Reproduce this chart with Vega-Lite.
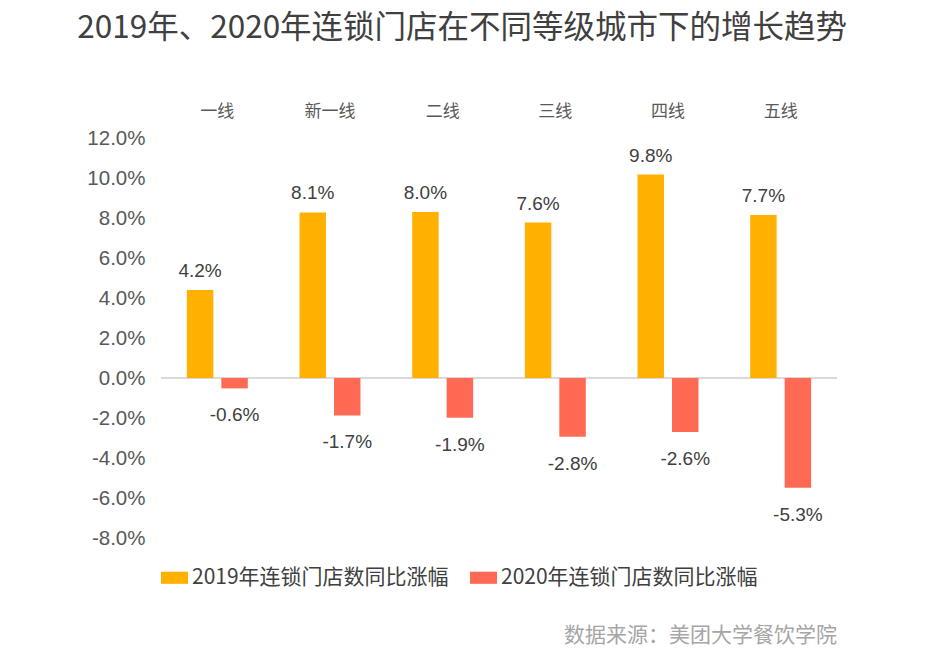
{
  "$schema": "https://vega.github.io/schema/vega-lite/v6.json",
  "padding": {"left": 77, "top": 12, "right": 10, "bottom": 5},
  "background": "white",
  "config": {"view": {"stroke": null}, "font": "Noto Sans CJK SC", "axisY": {"labelOverlap": false}, "axisQuantitative": {"labelOverlap": false}},
  "title": {"text": "数据来源：美团大学餐饮学院", "orient": "bottom", "anchor": "end", "fontSize": 21, "fontWeight": "normal", "color": "#a6a6a6", "font": "Noto Sans CJK SC", "offset": 37, "dx": -10},
  "data": {"values": [
    {"city": "一线", "series": "2019年连锁门店数同比涨幅", "value": 4.4, "label": "4.2%"},
    {"city": "一线", "series": "2020年连锁门店数同比涨幅", "value": -0.52, "label": "-0.6%"},
    {"city": "新一线", "series": "2019年连锁门店数同比涨幅", "value": 8.28, "label": "8.1%"},
    {"city": "新一线", "series": "2020年连锁门店数同比涨幅", "value": -1.87, "label": "-1.7%"},
    {"city": "二线", "series": "2019年连锁门店数同比涨幅", "value": 8.3, "label": "8.0%"},
    {"city": "二线", "series": "2020年连锁门店数同比涨幅", "value": -1.99, "label": "-1.9%"},
    {"city": "三线", "series": "2019年连锁门店数同比涨幅", "value": 7.77, "label": "7.6%"},
    {"city": "三线", "series": "2020年连锁门店数同比涨幅", "value": -2.94, "label": "-2.8%"},
    {"city": "四线", "series": "2019年连锁门店数同比涨幅", "value": 10.17, "label": "9.8%"},
    {"city": "四线", "series": "2020年连锁门店数同比涨幅", "value": -2.7, "label": "-2.6%"},
    {"city": "五线", "series": "2019年连锁门店数同比涨幅", "value": 8.15, "label": "7.7%"},
    {"city": "五线", "series": "2020年连锁门店数同比涨幅", "value": -5.49, "label": "-5.3%"}
  ]},
  "vconcat": [
    {
      "width": 676,
      "height": 400,
      "title": {"text": "2019年、2020年连锁门店在不同等级城市下的增长趋势", "anchor": "middle", "frame": "bounds", "fontSize": 31.5, "fontWeight": "normal", "color": "#404040", "font": "Noto Sans CJK SC", "offset": 58},
      "layer": [
        {
          "mark": {"type": "rule", "color": "#d9d9d9", "strokeWidth": 1},
          "encoding": {"y": {"datum": 0, "type": "quantitative", "scale": {"domain": [-8, 12], "nice": false, "zero": false},
            "axis": {"values": [-8, -6, -4, -2, 0, 2, 4, 6, 8, 10, 12], "tickCount": 30, "labelExpr": "(datum.value < 0 ? '-' : '') + format(abs(datum.value), '.1f') + '%'", "labelOverlap": false, "domain": false, "ticks": false, "grid": false, "labelFont": "Liberation Sans", "labelFontSize": 20.5, "labelColor": "#595959", "labelPadding": 16, "title": null}}}
        },
        {
          "mark": {"type": "bar"},
          "encoding": {
            "x": {"field": "city", "type": "nominal", "sort": null, "scale": {"paddingInner": 0, "paddingOuter": 0},
              "axis": {"orient": "top", "domain": false, "ticks": false, "labelAngle": 0, "labelFont": "Noto Sans CJK SC", "labelFontSize": 17, "labelColor": "#595959", "labelPadding": 18, "title": null}},
            "xOffset": {"field": "series", "type": "nominal", "sort": null, "scale": {"paddingInner": 0.232, "paddingOuter": 0.75}},
            "y": {"field": "value", "type": "quantitative", "scale": {"domain": [-8, 12], "nice": false, "zero": false},
              "axis": {"values": [-8, -6, -4, -2, 0, 2, 4, 6, 8, 10, 12], "tickCount": 30, "labelExpr": "(datum.value < 0 ? '-' : '') + format(abs(datum.value), '.1f') + '%'", "labelOverlap": false, "domain": false, "ticks": false, "grid": false, "labelFont": "Liberation Sans", "labelFontSize": 20.5, "labelColor": "#595959", "labelPadding": 16, "title": null}},
            "color": {"field": "series", "type": "nominal", "sort": null, "scale": {"range": ["#FFB000", "#FF6A55"]},
              "legend": {"orient": "bottom", "direction": "horizontal", "title": null, "symbolType": "M-1,-0.45H1V0.45H-1Z", "symbolSize": 729, "symbolStrokeWidth": 0, "labelFontSize": 21, "labelFont": "Noto Sans CJK SC", "labelColor": "#404040", "labelLimit": 0, "columnPadding": 21, "offset": 15, "labelOffset": 4, "padding": 0}}
          }
        },
        {
          "transform": [{"filter": "datum.value > 0"}],
          "mark": {"type": "text", "baseline": "middle", "dy": -19, "fontSize": 19, "font": "Liberation Sans", "color": "#404040"},
          "encoding": {
            "x": {"field": "city", "type": "nominal", "sort": null},
            "xOffset": {"field": "series", "type": "nominal", "sort": null},
            "y": {"field": "value", "type": "quantitative",
              "axis": {"values": [-8, -6, -4, -2, 0, 2, 4, 6, 8, 10, 12], "tickCount": 30, "labelExpr": "(datum.value < 0 ? '-' : '') + format(abs(datum.value), '.1f') + '%'", "labelOverlap": false, "domain": false, "ticks": false, "grid": false, "labelFont": "Liberation Sans", "labelFontSize": 20.5, "labelColor": "#595959", "labelPadding": 16, "title": null}},
            "text": {"field": "label"}
          }
        },
        {
          "transform": [{"filter": "datum.value < 0"}],
          "mark": {"type": "text", "baseline": "middle", "dy": 27, "fontSize": 19, "font": "Liberation Sans", "color": "#404040"},
          "encoding": {
            "x": {"field": "city", "type": "nominal", "sort": null},
            "xOffset": {"field": "series", "type": "nominal", "sort": null},
            "y": {"field": "value", "type": "quantitative",
              "axis": {"values": [-8, -6, -4, -2, 0, 2, 4, 6, 8, 10, 12], "tickCount": 30, "labelExpr": "(datum.value < 0 ? '-' : '') + format(abs(datum.value), '.1f') + '%'", "labelOverlap": false, "domain": false, "ticks": false, "grid": false, "labelFont": "Liberation Sans", "labelFontSize": 20.5, "labelColor": "#595959", "labelPadding": 16, "title": null}},
            "text": {"field": "label"}
          }
        }
      ]
    }
  ]
}
